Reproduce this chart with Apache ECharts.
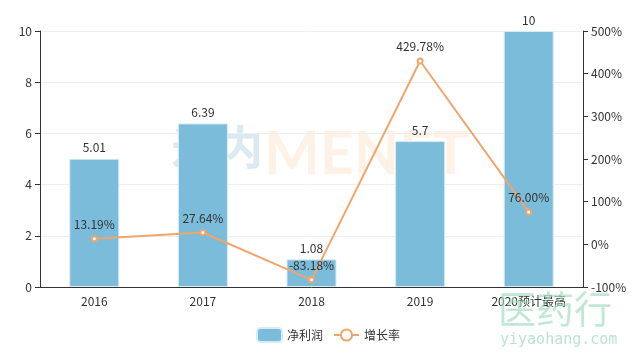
<!DOCTYPE html>
<html><head><meta charset="utf-8">
<script src="https://cdn.jsdelivr.net/npm/echarts@6/dist/echarts.min.js"></script>
<style>html,body{margin:0;padding:0;background:#fff}#c{width:636px;height:361px}</style>
</head><body><div id="c"></div>
<script>
const categories = ['2016','2017','2018','2019','2020预计最高'];
const profit = [5.01, 6.39, 1.08, 5.7, 10];
const growth = [13.19, 27.64, -83.18, 429.78, 76.00];
const growthLabels = ['13.19%','27.64%','-83.18%','429.78%','76.00%'];
const leftTicks = {min:0, max:10, interval:2};
const rightTicks = {min:-100, max:500, interval:100};

const font = '"Noto Sans CJK SC", "Noto Sans", sans-serif';
const chart = echarts.init(document.getElementById('c'));
chart.setOption({
  animation:false,
  textStyle:{fontFamily:font},
  graphic:[
    {type:'text', left:171, top:124, z:0, style:{text:'米内', font:'bold 46px '+font, fill:'rgba(150,195,212,0.35)'}},
    {type:'text', left:264, top:125, z:0, style:{text:'MENET', font:'bold 59px Lato, sans-serif', fill:'rgba(250,200,150,0.25)'}},
    {type:'text', left:498, top:290, z:100, style:{text:'医药行', font:'38px '+font, fill:'rgba(160,220,190,0.65)'}},
    {type:'text', left:500, top:333, z:100, style:{text:'yiyaohang.com', font:'15px "DejaVu Sans Mono", monospace', fill:'rgba(160,220,190,0.75)'}}
  ],
  grid:{left:40, right:53, top:31, bottom:74},
  legend:{bottom:13, left:251, itemWidth:25, itemHeight:14, itemGap:10,
    textStyle:{fontSize:12, color:'#333', fontFamily:font},
    data:['净利润','增长率']},
  xAxis:{type:'category', data:categories,
    axisLine:{lineStyle:{color:'#333'}}, axisTick:{lineStyle:{color:'#333'}},
    axisLabel:{color:'#333', fontSize:12, fontFamily:font, interval:0}},
  yAxis:[
    {type:'value', min:leftTicks.min, max:leftTicks.max, interval:leftTicks.interval,
     axisLine:{show:true, lineStyle:{color:'#333'}}, axisTick:{show:true},
     axisLabel:{color:'#333', fontSize:12},
     splitLine:{lineStyle:{color:'#eee'}}},
    {type:'value', min:rightTicks.min, max:rightTicks.max, interval:rightTicks.interval,
     axisLine:{show:true, lineStyle:{color:'#333'}}, axisTick:{show:true},
     axisLabel:{color:'#333', fontSize:12, formatter:'{value}%'},
     splitLine:{show:false}}
  ],
  series:[
    {name:'净利润', type:'bar', data:profit, barWidth:50,
     itemStyle:{color:'#7bbcda', borderColor:'#d6ecf5', borderWidth:1},
     label:{show:true, position:'top', color:'#333', fontSize:12}},
    {name:'增长率', type:'line', yAxisIndex:1, data:growth,
     symbol:'emptyCircle', symbolSize:5,
     itemStyle:{color:'#eea66c'}, lineStyle:{color:'#eea66c', width:2},
     label:{show:true, position:'top', color:'#333', fontSize:12,
       formatter:(p)=>growthLabels[p.dataIndex]}}
  ]
});
</script></body></html>
